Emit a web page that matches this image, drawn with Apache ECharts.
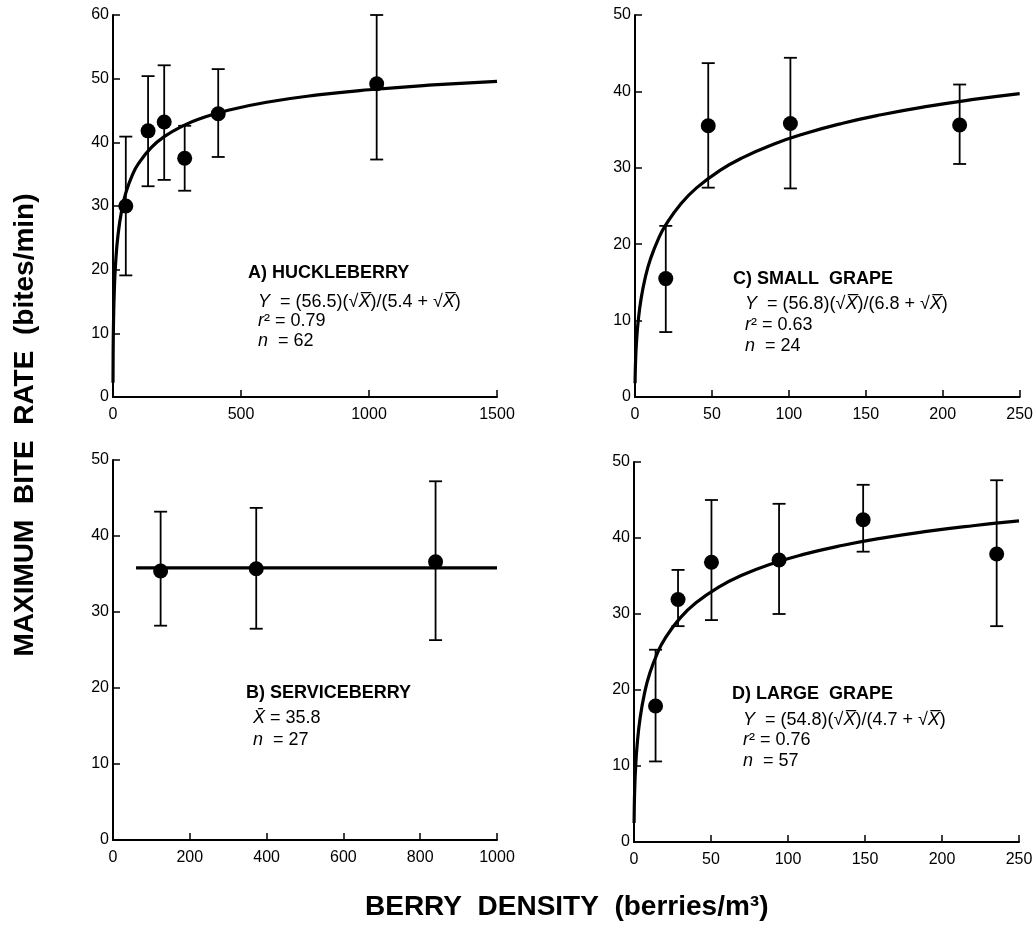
<!DOCTYPE html>
<html><head><meta charset="utf-8">
<script src="https://cdn.jsdelivr.net/npm/echarts@6/dist/echarts.min.js"></script>
<style>html,body{margin:0;background:#fff}#c{width:1036px;height:925px}</style>
</head><body><div id="c"></div>
<script>
// ---- Panel A: huckleberry ----
const hucX  = [50, 137, 200, 280, 411, 1030];
const hucY  = [30.0, 41.8, 43.2, 37.5, 44.5, 49.2];
const hucLo = [19.1, 33.1, 34.1, 32.4, 37.7, 37.3];
const hucHi = [40.9, 50.4, 52.1, 42.6, 51.5, 60.0];
const hucFit = [56.5, 5.4];               // Y = a*sqrt(X)/(b+sqrt(X)), printed on the chart
const hucCurveX = [0.05, 0.5, 2, 5, 10, 20, 35, 50, 75, 100, 150, 200, 275, 350, 450, 600, 800, 1000, 1250, 1500];

// ---- Panel C: small grape ----
const sgX  = [20, 47.6, 101, 211];
const sgY  = [15.5, 35.5, 35.8, 35.6];
const sgLo = [8.5, 27.4, 27.3, 30.5];
const sgHi = [22.4, 43.7, 44.4, 40.9];
const sgFit = [56.8, 6.8];

// ---- Panel B: serviceberry ----
const svX  = [124, 373, 840];
const svY  = [35.4, 35.7, 36.6];
const svLo = [28.2, 27.8, 26.3];
const svHi = [43.2, 43.7, 47.2];
const svMean = 35.8;
const svMeanX = [60, 1000];

// ---- Panel D: large grape ----
const lgX  = [14, 28.6, 50.3, 94.2, 148.8, 235.5];
const lgY  = [17.9, 31.9, 36.8, 37.1, 42.4, 37.9];
const lgLo = [10.6, 28.4, 29.2, 30.0, 38.2, 28.4];
const lgHi = [25.3, 35.8, 45.0, 44.5, 47.0, 47.6];
const lgFit = [54.8, 4.7];

const grapeCurveX = [0.05, 0.2, 0.5, 1, 2, 4, 7, 10, 15, 20, 30, 40, 55, 70, 90, 110, 135, 160, 190, 220, 250];

// axis ranges
const xMaxA = 1500, xIntA = 500, yMaxA = 60;
const xMaxB = 1000, xIntB = 200, yMaxB = 50;
const xMaxC = 250,  xIntC = 50,  yMaxC = 50;
const xMaxD = 250,  xIntD = 50,  yMaxD = 50;

const FONT = '"Liberation Sans", Arial, Helvetica, sans-serif';

function fitCurve(xs, p) { return xs.map(x => [x, p[0] * Math.sqrt(x) / (p[1] + Math.sqrt(x))]); }
function pts(xs, ys) { return xs.map((x, i) => [x, ys[i]]); }
function bars(xs, lo, hi) { return xs.map((x, i) => [x, lo[i], hi[i]]); }

const grids = [
  { left: 113, top: 15,  width: 384, height: 382 },  // A
  { left: 113, top: 460, width: 384, height: 380 },  // B
  { left: 635, top: 15,  width: 385, height: 382 },  // C
  { left: 634, top: 462, width: 385, height: 380 }   // D
];

function xAx(i, max, interval) {
  return {
    gridIndex: i, type: 'value', min: 0, max: max, interval: interval,
    axisLine: { show: true, onZero: false, lineStyle: { color: '#000', width: 2 } },
    axisTick: { show: true, inside: true, length: 7, lineStyle: { color: '#000', width: 1.5 } },
    axisLabel: { color: '#000', fontSize: 16, fontFamily: FONT, margin: 10, formatter: v => String(v) },
    splitLine: { show: false }
  };
}
function yAx(i, max) {
  return {
    gridIndex: i, type: 'value', min: 0, max: max, interval: 10,
    axisLine: { show: true, onZero: false, lineStyle: { color: '#000', width: 2 } },
    axisTick: { show: true, inside: true, length: 7, lineStyle: { color: '#000', width: 1.5 } },
    axisLabel: { color: '#000', fontSize: 16, fontFamily: FONT, margin: 4, formatter: v => String(v) },
    splitLine: { show: false }
  };
}

function errSeries(i, data) {
  return {
    type: 'custom', xAxisIndex: i, yAxisIndex: i, data: data,
    encode: { x: 0, y: [1, 2] }, z: 3, silent: true,
    renderItem: function (params, api) {
      const x = api.value(0), lo = api.value(1), hi = api.value(2);
      const a = api.coord([x, hi]), b = api.coord([x, lo]);
      const w = 6.5, st = { stroke: '#000', lineWidth: 1.8 };
      return { type: 'group', children: [
        { type: 'line', shape: { x1: a[0], y1: a[1], x2: b[0], y2: b[1] }, style: st },
        { type: 'line', shape: { x1: a[0] - w, y1: a[1], x2: a[0] + w, y2: a[1] }, style: st },
        { type: 'line', shape: { x1: b[0] - w, y1: b[1], x2: b[0] + w, y2: b[1] }, style: st }
      ]};
    }
  };
}
function dotSeries(i, data) {
  return { type: 'scatter', xAxisIndex: i, yAxisIndex: i, data: data, symbolSize: 15,
           itemStyle: { color: '#000', opacity: 1 }, z: 5, silent: true };
}
function lineSeries(i, data) {
  return { type: 'line', xAxisIndex: i, yAxisIndex: i, data: data, showSymbol: false, smooth: true,
           lineStyle: { color: '#000', width: 3.2 }, z: 4, silent: true, animation: false };
}

const rich = {
  i: { fontStyle: 'italic', fontSize: 18, fontFamily: FONT, fill: '#000' }
};
function label(x, y, txt, bold) {
  return { type: 'text', x: x, y: y, silent: true,
    style: { text: txt, fill: '#000', font: (bold ? 'bold 18px ' : '18px ') + FONT,
             verticalAlign: 'middle', align: 'left', rich: rich } };
}

const option = {
  animation: false,
  backgroundColor: '#fff',
  grid: grids,
  xAxis: [xAx(0, xMaxA, xIntA), xAx(1, xMaxB, xIntB), xAx(2, xMaxC, xIntC), xAx(3, xMaxD, xIntD)],
  yAxis: [yAx(0, yMaxA), yAx(1, yMaxB), yAx(2, yMaxC), yAx(3, yMaxD)],
  series: [
    lineSeries(0, fitCurve(hucCurveX, hucFit)),
    errSeries(0, bars(hucX, hucLo, hucHi)),
    dotSeries(0, pts(hucX, hucY)),

    lineSeries(1, svMeanX.map(x => [x, svMean])),
    errSeries(1, bars(svX, svLo, svHi)),
    dotSeries(1, pts(svX, svY)),

    lineSeries(2, fitCurve(grapeCurveX, sgFit)),
    errSeries(2, bars(sgX, sgLo, sgHi)),
    dotSeries(2, pts(sgX, sgY)),

    lineSeries(3, fitCurve(grapeCurveX, lgFit)),
    errSeries(3, bars(lgX, lgLo, lgHi)),
    dotSeries(3, pts(lgX, lgY))
  ],
  graphic: [
    label(248, 273, 'A) HUCKLEBERRY', true),
    label(258, 302, '{i|Y}  = (56.5)(√{i|X̅})/(5.4 + √{i|X̅})'),
    label(258, 321, '{i|r}² = 0.79'),
    label(258, 341, '{i|n}  = 62'),

    label(733, 279, 'C) SMALL  GRAPE', true),
    label(745, 304, '{i|Y}  = (56.8)(√{i|X̅})/(6.8 + √{i|X̅})'),
    label(745, 325, '{i|r}² = 0.63'),
    label(745, 346, '{i|n}  = 24'),

    label(246, 693, 'B) SERVICEBERRY', true),
    label(253, 718, '{i|X̄} = 35.8'),
    label(253, 740, '{i|n}  = 27'),

    label(732, 694, 'D) LARGE  GRAPE', true),
    label(743, 720, '{i|Y}  = (54.8)(√{i|X̅})/(4.7 + √{i|X̅})'),
    label(743, 740, '{i|r}² = 0.76'),
    label(743, 761, '{i|n}  = 57'),

    { type: 'text', x: 25, y: 425, rotation: Math.PI / 2, silent: true,
      style: { text: 'MAXIMUM  BITE  RATE  (bites/min)', fill: '#000', font: 'bold 28px ' + FONT,
               align: 'center', verticalAlign: 'middle' } },
    { type: 'text', x: 365, y: 907, silent: true,
      style: { text: 'BERRY  DENSITY  (berries/m³)', fill: '#000', font: 'bold 28px ' + FONT,
               align: 'left', verticalAlign: 'middle' } }
  ]
};

const chart = echarts.init(document.getElementById('c'), null, { renderer: 'canvas' });
chart.setOption(option);
</script>
</body></html>
